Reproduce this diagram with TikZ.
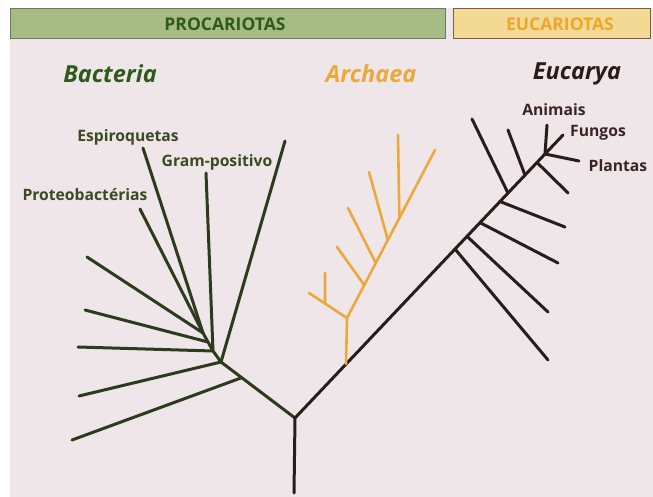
\documentclass[tikz,border=0pt]{standalone}
\usepackage{fontspec}
\setmainfont{Open Sans}
\usetikzlibrary{calc}
\definecolor{bgpink}{HTML}{EEE6E9}
\definecolor{bandgreen}{HTML}{A6BC86}
\definecolor{bandgreenline}{HTML}{6E7A60}
\definecolor{bandorange}{HTML}{F4D994}
\definecolor{bandorangeline}{HTML}{7C5C46}
\definecolor{txtgreen}{HTML}{2F5A1C}
\definecolor{txtorange}{HTML}{EDA62C}
\definecolor{bactgreen}{HTML}{2C3B1C}
\definecolor{archorange}{HTML}{EBA93C}
\definecolor{eukdark}{HTML}{2A1C1E}
\definecolor{labgreen}{HTML}{3A4A22}
\definecolor{labdark}{HTML}{3A2428}
\begin{document}
\begin{tikzpicture}[x=1pt,y=-1pt,line cap=round,
  band/.style={line width=1pt},
  bandtext/.style={font=\bfseries\fontsize{17.5}{17.5}\selectfont,inner sep=0pt},
  title/.style={font=\bfseries\itshape\fontsize{23.5}{23.5}\selectfont,inner sep=0pt},
  lab/.style={font=\bfseries\fontsize{15.7}{15.7}\selectfont,inner sep=0pt},
  bact/.style={draw=bactgreen,line width=3pt},
  arch/.style={draw=archorange,line width=2.6pt},
  euk/.style={draw=eukdark,line width=3pt}]
\useasboundingbox (0,0) rectangle (653,497);
\fill[white] (0,0) rectangle (653,497);
\fill[bgpink] (10,8) rectangle (653,497);
% header bands
\draw[band,fill=bandgreen,draw=bandgreenline] (10,8.5) rectangle (445,38.5);
\node[bandtext,text=txtgreen] (proc) at (225,24) {PROCARIOTAS};
\draw[band,fill=bandorange,draw=bandorangeline] (453,8.5) rectangle (650,38.5);
\node[bandtext,text=txtorange] (euc) at (560,24) {EUCARIOTAS};
% titles
\node[title,text=txtgreen] (tbact) at (110,74) {Bacteria};
\node[title,text=archorange] (tarch) at (371,74) {Archaea};
\node[title,text=eukdark] (teuk) at (577,74) {Eucarya};
% labels
\node[lab,text=labgreen] (lesp) at (128,137) {Espiroquetas};
\node[lab,text=labgreen] (lgram) at (217,162) {Gram-positivo};
\node[lab,text=labgreen] (lprot) at (85,195) {Proteobactérias};
\node[lab,text=labdark] (lani) at (554,110) {Animais};
\node[lab,text=labdark] (lfun) at (598,133) {Fungos};
\node[lab,text=labdark] (lpla) at (618,166) {Plantas};
% root
\coordinate (R0) at (294,493);
\coordinate (R) at (295,418);
% bacteria
\coordinate (B0) at (221,362);
\coordinate (B1) at (213,351);
\coordinate (B2) at (208,342);
\coordinate (B3) at (203,333);
\coordinate (Bx) at ($(B0)!0.28!(R)$);
\coordinate (Esp) at (143,148);
\coordinate (Pro) at (140,209);
\coordinate (Gra) at (206,173);
\coordinate (Lng) at (285,141);
\coordinate (L1) at (87,257);
\coordinate (L2) at (85,310);
\coordinate (L3) at (78,347);
\coordinate (L4) at (79,396);
\coordinate (L5) at (72,440);
\draw[bact] (R) -- (B0);
\draw[bact] (B0) -- (B1) -- (B2) -- (B3) -- (Esp);
\draw[bact] (B3) -- (Pro);
\draw[bact] (B1) -- (Gra);
\draw[bact] (B0) -- (Lng);
\draw[bact] (B3) -- (L1);
\draw[bact] (B2) -- (L2);
\draw[bact] (B1) -- (L3);
\draw[bact] (B0) -- (L4);
\draw[bact] (Bx) -- (L5);
% eucarya
\coordinate (C) at (545,154);
\draw[euk] (R0) -- (R) -- (C);
\coordinate (E1) at ($(R)!0.64!(C)$);
\coordinate (E2) at ($(R)!0.688!(C)$);
\coordinate (E3) at ($(R)!0.74!(C)$);
\coordinate (E4) at ($(R)!0.82!(C)$);
\coordinate (E5) at ($(R)!0.852!(C)$);
\coordinate (E6) at ($(R)!0.92!(C)$);
\coordinate (E7) at ($(R)!0.968!(C)$);
\coordinate (F1) at (548,360);
\coordinate (F2) at (548,312);
\coordinate (F3) at (558,263);
\coordinate (F4) at (565,227);
\coordinate (F5) at (472,119);
\coordinate (F6) at (508,130);
\coordinate (F7) at (568,193);
\coordinate (Ani) at (547,125);
\coordinate (Fun) at (563,135);
\coordinate (Pla) at (579,161);
\foreach \i in {1,...,7} {\draw[euk] (E\i) -- (F\i);}
\draw[euk] (C) -- (Ani);
\draw[euk] (C) -- (Fun);
\draw[euk] (C) -- (Pla);
% archaea
\coordinate (A) at ($(R)!0.204!(C)$);
\coordinate (A1) at (347,318);
\coordinate (AT) at (435,150);
\coordinate (AL) at (309,293);
\coordinate (AS) at ($(A1)!0.58!(AL)$);
\coordinate (AST) at (325,273);
\coordinate (K1) at ($(A1)!0.196!(AT)$);
\coordinate (K2) at ($(A1)!0.327!(AT)$);
\coordinate (K3) at ($(A1)!0.464!(AT)$);
\coordinate (K4) at ($(A1)!0.595!(AT)$);
\coordinate (M1) at (337,247);
\coordinate (M2) at (348,208);
\coordinate (M3) at (369,172);
\coordinate (M4) at (398,135);
\draw[arch] (A) -- (A1) -- (AT);
\draw[arch] (A1) -- (AL);
\draw[arch] (AS) -- (AST);
\foreach \i in {1,...,4} {\draw[arch] (K\i) -- (M\i);}
\end{tikzpicture}
\end{document}
